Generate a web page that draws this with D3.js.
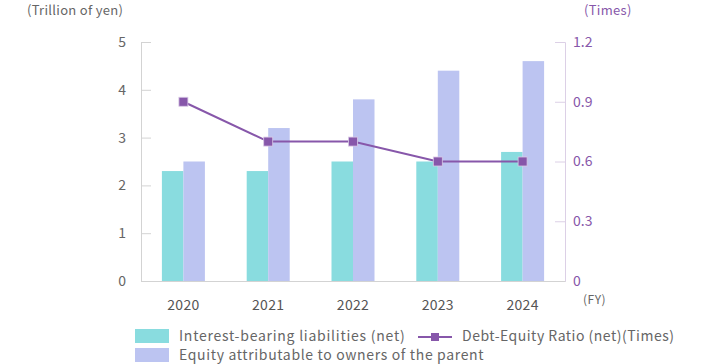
<!DOCTYPE html>
<html><head><meta charset="utf-8">
<script src="https://cdn.jsdelivr.net/npm/d3@7/dist/d3.min.js"></script>
<style>
body{margin:0;background:#fff;}
svg text{font-family:"Noto Sans CJK JP","Noto Sans",sans-serif;}
</style></head>
<body><svg id="c" width="704" height="364"></svg>
<script>
const years = ["2020","2021","2022","2023","2024"];
const interestBearing = [2.3, 2.3, 2.5, 2.5, 2.7];
const equityParent = [2.5, 3.2, 3.8, 4.4, 4.6];
const deRatio = [0.9, 0.7, 0.7, 0.6, 0.6];
const leftTicks = [0,1,2,3,4,5];
const rightTicks = [0,0.3,0.6,0.9,1.2];
const seriesNames = ["Interest-bearing liabilities (net)","Equity attributable to owners of the parent","Debt-Equity Ratio (net)(Times)"];

const C_TEAL="#89dcdf", C_LAV="#bcc4f1", C_LINE="#8757aa";
const svg=d3.select("#c");
const L=141,R=565,T=42,B=281;
const x=d3.scaleBand().domain(years).range([L,R]);
const yl=d3.scaleLinear().domain([0,5]).range([B,T]);
const yr=d3.scaleLinear().domain([0,1.2]).range([B,T]);
const bw=21.5;

// left axis
const gl=svg.append("g").attr("transform",`translate(${L},0)`)
  .call(d3.axisRight(yl).tickValues(leftTicks).tickSize(10).tickFormat(""));
gl.select(".domain").attr("stroke","#d3d3d3");
gl.selectAll(".tick line").attr("stroke","#d3d3d3");
svg.append("g").selectAll("text").data(leftTicks).join("text")
  .attr("x",126).attr("y",d=>yl(d)).attr("dy","0.35em").attr("text-anchor","end")
  .attr("font-size",14).attr("fill","#666").text(d=>d);

// right axis
const gr=svg.append("g").attr("transform",`translate(${R},0)`)
  .call(d3.axisLeft(yr).tickValues(rightTicks).tickSize(10).tickFormat(""));
gr.select(".domain").attr("stroke","#dcd0e6");
gr.selectAll(".tick line").attr("stroke","#dcd0e6");
svg.append("g").selectAll("text").data(rightTicks).join("text")
  .attr("x",573).attr("y",d=>yr(d)).attr("dy","0.35em").attr("text-anchor","start")
  .attr("font-size",14).attr("fill",C_LINE).text(d=>d3.format("")(d));

// bottom axis
const gb=svg.append("g").attr("transform",`translate(0,${B})`)
  .call(d3.axisBottom(x).tickSize(0).tickFormat(""));
gb.select(".domain").attr("stroke","#d3d3d3");
svg.append("g").selectAll("text").data(years).join("text")
  .attr("x",d=>x(d)+x.bandwidth()/2).attr("y",305).attr("dy","0.35em").attr("text-anchor","middle")
  .attr("font-size",14).attr("letter-spacing",0.3).attr("fill","#555").text(d=>d);

// bars
svg.append("g").selectAll("rect").data(years).join("rect")
  .attr("x",d=>x(d)+x.bandwidth()/2-bw).attr("width",bw)
  .attr("y",(d,i)=>yl(interestBearing[i])).attr("height",(d,i)=>B-yl(interestBearing[i]))
  .attr("fill",C_TEAL);
svg.append("g").selectAll("rect").data(years).join("rect")
  .attr("x",d=>x(d)+x.bandwidth()/2).attr("width",bw)
  .attr("y",(d,i)=>yl(equityParent[i])).attr("height",(d,i)=>B-yl(equityParent[i]))
  .attr("fill",C_LAV);

// line
const line=d3.line().x((d,i)=>x(years[i])+x.bandwidth()/2).y(d=>yr(d));
svg.append("path").datum(deRatio).attr("d",line).attr("fill","none")
  .attr("stroke",C_LINE).attr("stroke-width",2);
svg.append("g").selectAll("rect").data(deRatio).join("rect")
  .attr("x",(d,i)=>x(years[i])+x.bandwidth()/2-4.5).attr("y",d=>yr(d)-4.5)
  .attr("width",9).attr("height",9).attr("fill",C_LINE).attr("stroke","#d9c9e6").attr("stroke-width",0.8);

// unit labels
svg.append("text").attr("x",27).attr("y",10).attr("dy","0.35em").attr("font-size",13).attr("letter-spacing",0.3).attr("fill","#666").text("(Trillion of yen)");
svg.append("text").attr("x",584).attr("y",10).attr("dy","0.35em").attr("font-size",13).attr("letter-spacing",0.3).attr("fill",C_LINE).text("(Times)");
svg.append("text").attr("x",583).attr("y",300).attr("dy","0.35em").attr("font-size",12).attr("letter-spacing",0.5).attr("fill","#666").text("(FY)");

// legend
const lg=svg.append("g");
lg.append("rect").attr("x",135).attr("y",329).attr("width",34).attr("height",14).attr("fill",C_TEAL);
lg.append("rect").attr("x",135).attr("y",348).attr("width",34).attr("height",14).attr("fill",C_LAV);
lg.append("text").attr("x",179).attr("y",336).attr("dy","0.35em").attr("font-size",14).attr("letter-spacing",0.75).attr("fill","#666").text(seriesNames[0]);
lg.append("text").attr("x",179).attr("y",355).attr("dy","0.35em").attr("font-size",14).attr("letter-spacing",0.65).attr("fill","#666").text(seriesNames[1]);
lg.append("line").attr("x1",418).attr("x2",452).attr("y1",337).attr("y2",337).attr("stroke",C_LINE).attr("stroke-width",2);
lg.append("rect").attr("x",431).attr("y",333).attr("width",8).attr("height",8).attr("fill",C_LINE);
lg.append("text").attr("x",462).attr("y",336).attr("dy","0.35em").attr("font-size",14).attr("letter-spacing",0.5).attr("fill","#666").text(seriesNames[2]);
</script></body></html>
